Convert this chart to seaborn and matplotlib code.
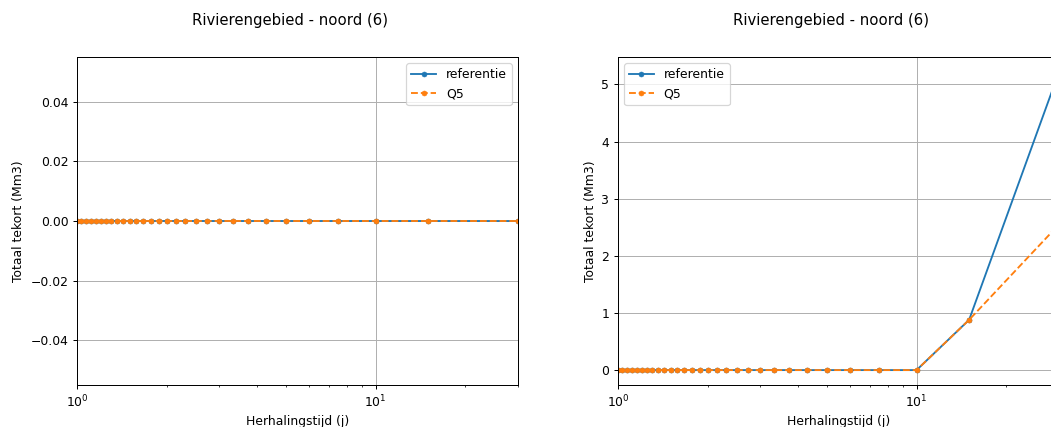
import matplotlib
matplotlib.use("Agg")
import matplotlib.pyplot as plt
import seaborn as sns

# Return periods (years)
herhalingstijd = [1.0, 1.034, 1.071, 1.111, 1.154, 1.2, 1.25, 1.304, 1.364, 1.429,
                  1.5, 1.579, 1.667, 1.765, 1.875, 2.0, 2.143, 2.308, 2.5, 2.727,
                  3.0, 3.333, 3.75, 4.286, 5.0, 6.0, 7.5, 10.0, 15.0, 30.0]

# Left panel: all zero
links_referentie = [0.0] * 30
links_q5 = [0.0] * 30

# Right panel
rechts_referentie = [0.0] * 28 + [0.88, 5.22]
rechts_q5 = [0.0] * 28 + [0.88, 2.55]

titel = "Rivierengebied - noord (6)"
xlabel = "Herhalingstijd (j)"
ylabel = "Totaal tekort (Mm3)"

DPI = 89
fig = plt.figure(figsize=(1051 / DPI, 427 / DPI), dpi=DPI)

W, H = 1051, 427
def axes_at(x0, y0, x1, y1):
    return fig.add_axes([x0 / W, 1 - y1 / H, (x1 - x0) / W, (y1 - y0) / H])

ax1 = axes_at(77, 57, 518, 385)
ax2 = axes_at(618, 57, 1059, 385)

panels = [(ax1, links_referentie, links_q5, "upper right"),
          (ax2, rechts_referentie, rechts_q5, "upper left")]

for ax, ref, q5, loc in panels:
    sns.lineplot(x=herhalingstijd, y=ref, ax=ax, color="C0", marker=".",
                 markersize=8, mec="C0", mew=0.5, linewidth=1.5,
                 label="referentie", sort=False)
    sns.lineplot(x=herhalingstijd, y=q5, ax=ax, color="C1", marker=".",
                 markersize=8, mec="C1", mew=0.5, linewidth=1.5,
                 linestyle="--", label="Q5", sort=False)
    ax.set_xscale("log")
    ax.set_xlim(1, 30)
    ax.grid(True, which="major", color="#b0b0b0", linewidth=0.8)
    ax.set_title(titel, fontsize=12, pad=26, x=0.482)
    ax.set_xlabel(xlabel)
    ax.set_ylabel(ylabel)
    ax.legend(loc=loc)

fig.savefig("out.png", dpi=DPI)
